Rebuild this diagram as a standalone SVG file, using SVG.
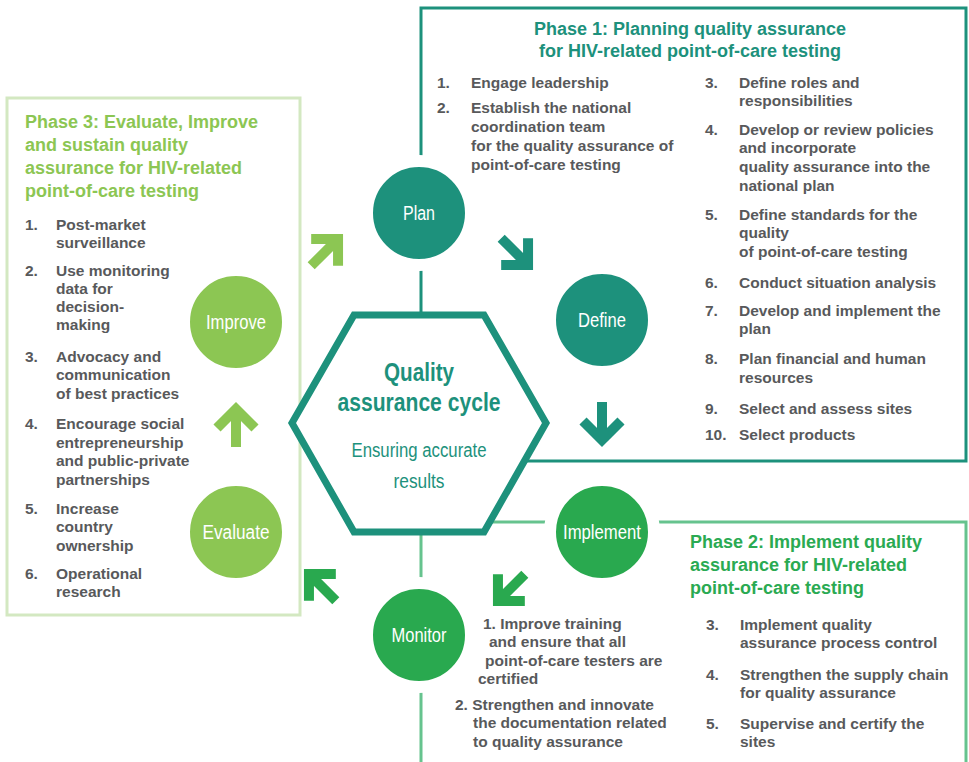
<svg xmlns="http://www.w3.org/2000/svg" xmlns:xlink="http://www.w3.org/1999/xlink" width="969" height="762" viewBox="0 0 969 762">
<style>
.box{fill:none;stroke-width:3}
.b1{stroke:#1d917c}.b2{stroke:#66c38e}.b3{stroke:#d3e8c1}
.title{font-family:"Liberation Sans",Arial,sans-serif;font-weight:bold;font-size:18px}
.t1{fill:#1d917c}.t2{fill:#2aaa52}.t3{fill:#8cc653}
.body{font-family:"Liberation Sans",Arial,sans-serif;font-weight:bold;font-size:15.5px;fill:#58595b}
.node{stroke:#fff;stroke-width:12}
.lbl{font-family:"Liberation Sans",Arial,sans-serif;font-size:20px;fill:#fff;text-anchor:middle}
.hex{font-family:"Liberation Sans",Arial,sans-serif;fill:#1d917c;text-anchor:middle}
.teal{fill:#1d917c}.green{fill:#29a94f}.lime{fill:#8cc653}
</style>
<defs>
<path id="arr" d="M-45,0 H-10 M-26,-19 L-7,0 L-26,19" fill="none" stroke-width="10" stroke-linejoin="miter"/>
</defs>

<g id="phase1">
<rect class="box b1" x="421" y="8" width="545" height="453"/>
<text class="title t1" text-anchor="middle"><tspan x="690" y="35">Phase 1: Planning quality assurance</tspan><tspan x="690" y="57">for HIV-related point-of-care testing</tspan></text>
<g class="body">
<text x="437" y="88">1.</text><text x="471" y="88">Engage leadership</text>
<text x="437" y="113">2.</text>
<text x="471" y="113">Establish the national</text>
<text x="471" y="132">coordination team</text>
<text x="471" y="151">for the quality assurance of</text>
<text x="471" y="170">point-of-care testing</text>
<text x="705" y="88">3.</text><text x="739" y="88">Define roles and</text>
<text x="739" y="106">responsibilities</text>
<text x="705" y="135">4.</text><text x="739" y="135">Develop or review policies</text>
<text x="739" y="153">and incorporate</text>
<text x="739" y="172">quality assurance into the</text>
<text x="739" y="191">national plan</text>
<text x="705" y="220">5.</text><text x="739" y="220">Define standards for the</text>
<text x="739" y="238">quality</text>
<text x="739" y="257">of point-of-care testing</text>
<text x="705" y="288">6.</text><text x="739" y="288">Conduct situation analysis</text>
<text x="705" y="316">7.</text><text x="739" y="316">Develop and implement the</text>
<text x="739" y="334">plan</text>
<text x="705" y="364">8.</text><text x="739" y="364">Plan financial and human</text>
<text x="739" y="383">resources</text>
<text x="705" y="414">9.</text><text x="739" y="414">Select and assess sites</text>
<text x="705" y="440">10.</text><text x="739" y="440">Select products</text>
</g>
</g>

<g id="phase2">
<rect class="box b2" x="421" y="522" width="545" height="300"/>
<text class="title t2"><tspan x="690" y="548">Phase 2: Implement quality</tspan><tspan x="690" y="571">assurance for HIV-related</tspan><tspan x="690" y="594">point-of-care testing</tspan></text>
<g class="body">
<text x="483" y="629">1. Improve training</text>
<text x="489" y="647">and ensure that all</text>
<text x="485" y="666">point-of-care testers are</text>
<text x="478" y="684">certified</text>
<text x="455" y="710">2. Strengthen and innovate</text>
<text x="473" y="728">the documentation related</text>
<text x="473" y="747">to quality assurance</text>
<text x="706" y="630">3.</text><text x="740" y="630">Implement quality</text>
<text x="740" y="648">assurance process control</text>
<text x="706" y="680">4.</text><text x="740" y="680">Strengthen the supply chain</text>
<text x="740" y="698">for quality assurance</text>
<text x="706" y="729">5.</text><text x="740" y="729">Supervise and certify the</text>
<text x="740" y="747">sites</text>
</g>
</g>

<g id="phase3">
<rect class="box b3" x="7" y="98" width="293" height="517"/>
<text class="title t3"><tspan x="25" y="128">Phase 3: Evaluate, Improve</tspan><tspan x="25" y="151">and sustain quality</tspan><tspan x="25" y="174">assurance for HIV-related</tspan><tspan x="25" y="197">point-of-care testing</tspan></text>
<g class="body">
<text x="25" y="230">1.</text><text x="56" y="230">Post-market</text>
<text x="56" y="248">surveillance</text>
<text x="25" y="276">2.</text><text x="56" y="276">Use monitoring</text>
<text x="56" y="294">data for</text>
<text x="56" y="312">decision-</text>
<text x="56" y="330">making</text>
<text x="25" y="362">3.</text><text x="56" y="362">Advocacy and</text>
<text x="56" y="380">communication</text>
<text x="56" y="399">of best practices</text>
<text x="25" y="429">4.</text><text x="56" y="429">Encourage social</text>
<text x="56" y="448">entrepreneurship</text>
<text x="56" y="466">and public-private</text>
<text x="56" y="485">partnerships</text>
<text x="25" y="514">5.</text><text x="56" y="514">Increase</text>
<text x="56" y="532">country</text>
<text x="56" y="551">ownership</text>
<text x="25" y="579">6.</text><text x="56" y="579">Operational</text>
<text x="56" y="597">research</text>
</g>
</g>

<g id="cycle">
<polygon points="354,315 484,315 546,423 484,532 354,532 292,423" fill="#fff" stroke="#1d917c" stroke-width="7" stroke-linejoin="miter"/>
<text class="hex" font-weight="bold" font-size="26" x="419" y="381" textLength="70" lengthAdjust="spacingAndGlyphs">Quality</text>
<text class="hex" font-weight="bold" font-size="26" x="419" y="411" textLength="163" lengthAdjust="spacingAndGlyphs">assurance cycle</text>
<text class="hex" font-size="20" x="419" y="457" textLength="135" lengthAdjust="spacingAndGlyphs">Ensuring accurate</text>
<text class="hex" font-size="20" x="419" y="488" textLength="51" lengthAdjust="spacingAndGlyphs">results</text>
</g>

<g id="connectors">
<g stroke="#fff" style="stroke-width:16">
<use xlink:href="#arr" transform="translate(343,234) rotate(-45)" style="stroke-width:16"/>
<use xlink:href="#arr" transform="translate(533,270) rotate(45)" style="stroke-width:16"/>
<use xlink:href="#arr" transform="translate(602,447) rotate(90)" style="stroke-width:16"/>
<use xlink:href="#arr" transform="translate(493,606) rotate(135)" style="stroke-width:16"/>
<use xlink:href="#arr" transform="translate(304,569) rotate(-135)" style="stroke-width:16"/>
<use xlink:href="#arr" transform="translate(236,402) rotate(-90)" style="stroke-width:16"/>
</g>
<use xlink:href="#arr" stroke="#8cc653" transform="translate(343,234) rotate(-45)"/>
<use xlink:href="#arr" stroke="#1d917c" transform="translate(533,270) rotate(45)"/>
<use xlink:href="#arr" stroke="#1d917c" transform="translate(602,447) rotate(90)"/>
<use xlink:href="#arr" stroke="#29a94f" transform="translate(493,606) rotate(135)"/>
<use xlink:href="#arr" stroke="#29a94f" transform="translate(304,569) rotate(-135)"/>
<use xlink:href="#arr" stroke="#8cc653" transform="translate(236,402) rotate(-90)"/>
</g>

<g id="plan"><circle class="node teal" cx="419" cy="213" r="52"/><text class="lbl" x="419" y="220" textLength="32" lengthAdjust="spacingAndGlyphs">Plan</text></g>
<g id="define"><circle class="node teal" cx="602" cy="320" r="52"/><text class="lbl" x="602" y="327" textLength="48" lengthAdjust="spacingAndGlyphs">Define</text></g>
<g id="implement"><circle class="node green" cx="602" cy="532" r="52"/><text class="lbl" x="602" y="539" textLength="78" lengthAdjust="spacingAndGlyphs">Implement</text></g>
<g id="monitor"><circle class="node green" cx="419" cy="635" r="52"/><text class="lbl" x="419" y="642" textLength="55" lengthAdjust="spacingAndGlyphs">Monitor</text></g>
<g id="evaluate"><circle class="node lime" cx="236" cy="532" r="52"/><text class="lbl" x="236" y="539" textLength="67" lengthAdjust="spacingAndGlyphs">Evaluate</text></g>
<g id="improve"><circle class="node lime" cx="236" cy="322" r="52"/><text class="lbl" x="236" y="329" textLength="60" lengthAdjust="spacingAndGlyphs">Improve</text></g>
</svg>
